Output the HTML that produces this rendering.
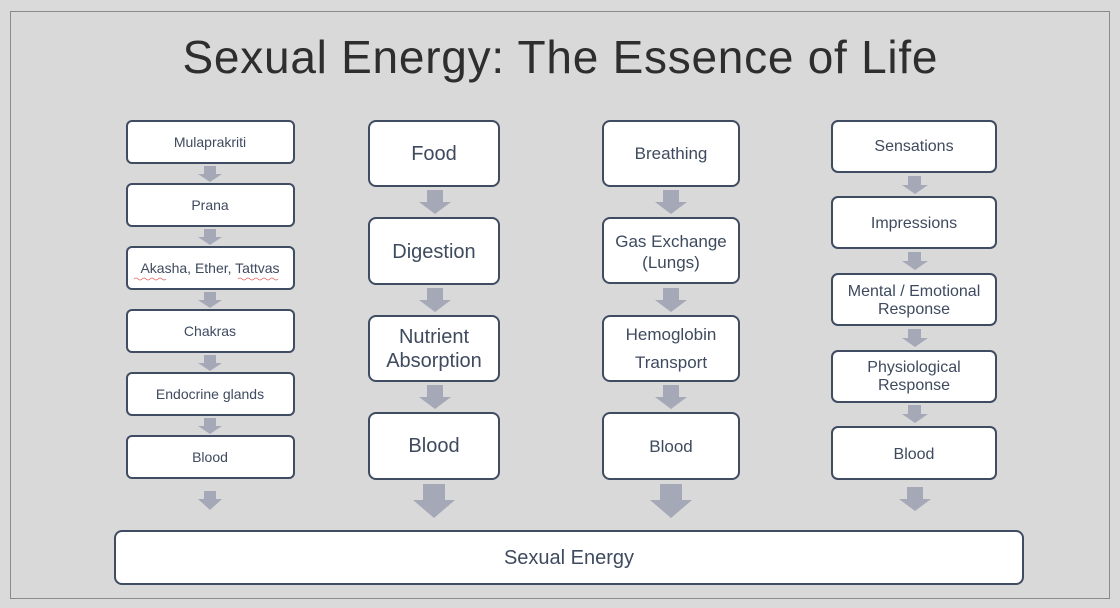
<!DOCTYPE html>
<html><head><meta charset="utf-8"><style>
html,body{margin:0;padding:0;background:#d9d9d9;}
svg{display:block;}
text{font-family:"Liberation Sans",sans-serif;fill:#3e4a5e;text-anchor:middle;}
</style></head><body>
<svg width="1120" height="608" viewBox="0 0 1120 608">
<rect x="0" y="0" width="1120" height="608" fill="#dadada"/>
<rect x="10.5" y="11.5" width="1099" height="587" fill="#d9d9d9" stroke="#8a8a8a" stroke-width="1"/>
<text x="560" y="73" style="font-size:46px;fill:#2e2e2e;font-weight:300" textLength="755">Sexual Energy: The Essence of Life</text>
<g fill="#ffffff" stroke="#3f4c61" stroke-width="2">
<!-- col1 -->
<rect x="127" y="121" width="167" height="42" rx="5"/>
<rect x="127" y="184" width="167" height="42" rx="5"/>
<rect x="127" y="247" width="167" height="42" rx="5"/>
<rect x="127" y="310" width="167" height="42" rx="5"/>
<rect x="127" y="373" width="167" height="42" rx="5"/>
<rect x="127" y="436" width="167" height="42" rx="5"/>
<!-- col2 -->
<rect x="369" y="121" width="130" height="65" rx="7"/>
<rect x="369" y="218" width="130" height="66" rx="7"/>
<rect x="369" y="316" width="130" height="65" rx="7"/>
<rect x="369" y="413" width="130" height="66" rx="7"/>
<!-- col3 -->
<rect x="603" y="121" width="136" height="65" rx="7"/>
<rect x="603" y="218" width="136" height="65" rx="7"/>
<rect x="603" y="316" width="136" height="65" rx="7"/>
<rect x="603" y="413" width="136" height="66" rx="7"/>
<!-- col4 -->
<rect x="832" y="121" width="164" height="51" rx="6"/>
<rect x="832" y="197" width="164" height="51" rx="6"/>
<rect x="832" y="274" width="164" height="51" rx="6"/>
<rect x="832" y="351" width="164" height="51" rx="6"/>
<rect x="832" y="427" width="164" height="52" rx="6"/>
<!-- bottom -->
<rect x="115" y="531" width="908" height="53" rx="7"/>
</g>
<g fill="#a5a9b7">
<!-- small arrows col1: shaft 12, head 20 -->
<path d="M204 166h12v8h6l-12 8l-12-8h6z"/>
<path d="M204 229h12v8h6l-12 8l-12-8h6z"/>
<path d="M204 292h12v8h6l-12 8l-12-8h6z"/>
<path d="M204 355h12v8h6l-12 8l-12-8h6z"/>
<path d="M204 418h12v8h6l-12 8l-12-8h6z"/>
<path d="M204 491h12v8h6l-12 11l-12-11h6z"/>
<!-- col2 arrows -->
<path d="M427 190h16v12h8l-16 12l-16-12h8z"/>
<path d="M427 288h16v12h8l-16 12l-16-12h8z"/>
<path d="M427 385h16v12h8l-16 12l-16-12h8z"/>
<path d="M423 484h22v16h10l-21 18l-21-18h10z"/>
<!-- col3 arrows -->
<path d="M663 190h16v12h8l-16 12l-16-12h8z"/>
<path d="M663 288h16v12h8l-16 12l-16-12h8z"/>
<path d="M663 385h16v12h8l-16 12l-16-12h8z"/>
<path d="M660 484h22v16h10l-21 18l-21-18h10z"/>
<!-- col4 arrows -->
<path d="M908 176h13v9h7l-13 9l-13-9h6z"/>
<path d="M908 252h13v9h7l-13 9l-13-9h6z"/>
<path d="M908 329h13v9h7l-13 9l-13-9h6z"/>
<path d="M908 405h13v9h7l-13 9l-13-9h6z"/>
<path d="M907 487h16v12h8l-16 12l-16-12h8z"/>
</g>
<!-- col1 text -->
<g style="font-size:14px">
<text x="210" y="147">Mulaprakriti</text>
<text x="210" y="210">Prana</text>
<text x="210" y="273">Akasha, Ether, Tattvas</text>
<text x="210" y="336">Chakras</text>
<text x="210" y="399">Endocrine glands</text>
<text x="210" y="462">Blood</text>
</g>
<path d="M134 279q2 -2 4 0t4 0t4 0t4 0t4 0t4 0t4 0t4 0" fill="none" stroke="#e06666" stroke-width="0.8"/>
<path d="M238 279q2 -2 4 0t4 0t4 0t4 0t4 0t4 0t4 0t4 0t4 0t4 0" fill="none" stroke="#e06666" stroke-width="0.8"/>
<!-- col2 text -->
<g style="font-size:20px">
<text x="434" y="160">Food</text>
<text x="434" y="258">Digestion</text>
<text x="434" y="343">Nutrient</text>
<text x="434" y="367">Absorption</text>
<text x="434" y="452">Blood</text>
</g>
<!-- col3 text -->
<g style="font-size:17px">
<text x="671" y="159">Breathing</text>
<text x="671" y="247">Gas Exchange</text>
<text x="671" y="268">(Lungs)</text>
<text x="671" y="340">Hemoglobin</text>
<text x="671" y="368">Transport</text>
<text x="671" y="452">Blood</text>
</g>
<!-- col4 text -->
<g style="font-size:16px">
<text x="914" y="151">Sensations</text>
<text x="914" y="228">Impressions</text>
<text x="914" y="296">Mental / Emotional</text>
<text x="914" y="314">Response</text>
<text x="914" y="372">Physiological</text>
<text x="914" y="390">Response</text>
<text x="914" y="459">Blood</text>
</g>
<text x="569" y="564" style="font-size:20px">Sexual Energy</text>
</svg>
</body></html>
